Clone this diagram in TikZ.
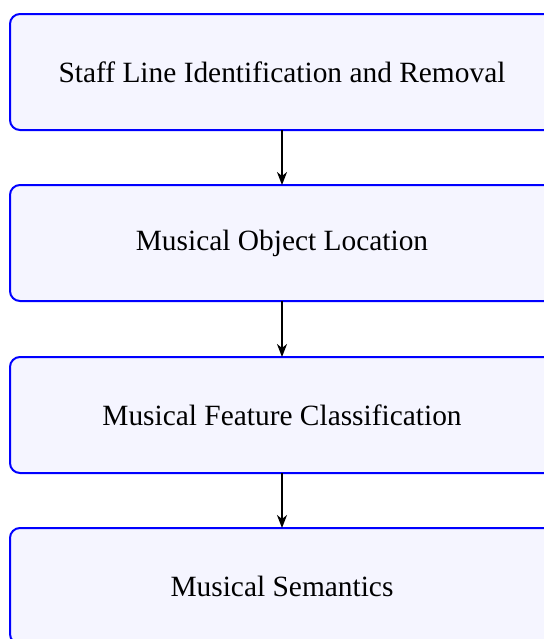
\documentclass[tikz,border=0pt]{standalone}
\usepackage{fontspec}
\setmainfont{Liberation Serif}
\usetikzlibrary{arrows.meta}
\begin{document}
\begin{tikzpicture}[x=1pt,y=1pt,
  stagebox/.style={draw=blue, fill=blue!4, line width=1pt, rounded corners=5pt,
    minimum width=272pt, minimum height=58pt, inner sep=0pt, outer sep=0pt,
    font=\fontsize{14.7pt}{17pt}\selectfont},
  flowarrow/.style={-{Stealth[length=6.5pt,width=5pt,inset=2pt]}, line width=0.8pt, black}]
\useasboundingbox (0,0) rectangle (272,-319.5);
\node[stagebox] (s1) at (141,-36) {Staff Line Identification and Removal};
\node[stagebox] (s2) at (141,-121.5) {Musical Object Location};
\node[stagebox] (s3) at (141,-207.5) {Musical Feature Classification};
\node[stagebox] (s4) at (141,-293) {Musical Semantics};
\draw[flowarrow] (s1.south) -- (s2.north);
\draw[flowarrow] (s2.south) -- (s3.north);
\draw[flowarrow] (s3.south) -- (s4.north);
\end{tikzpicture}
\end{document}
